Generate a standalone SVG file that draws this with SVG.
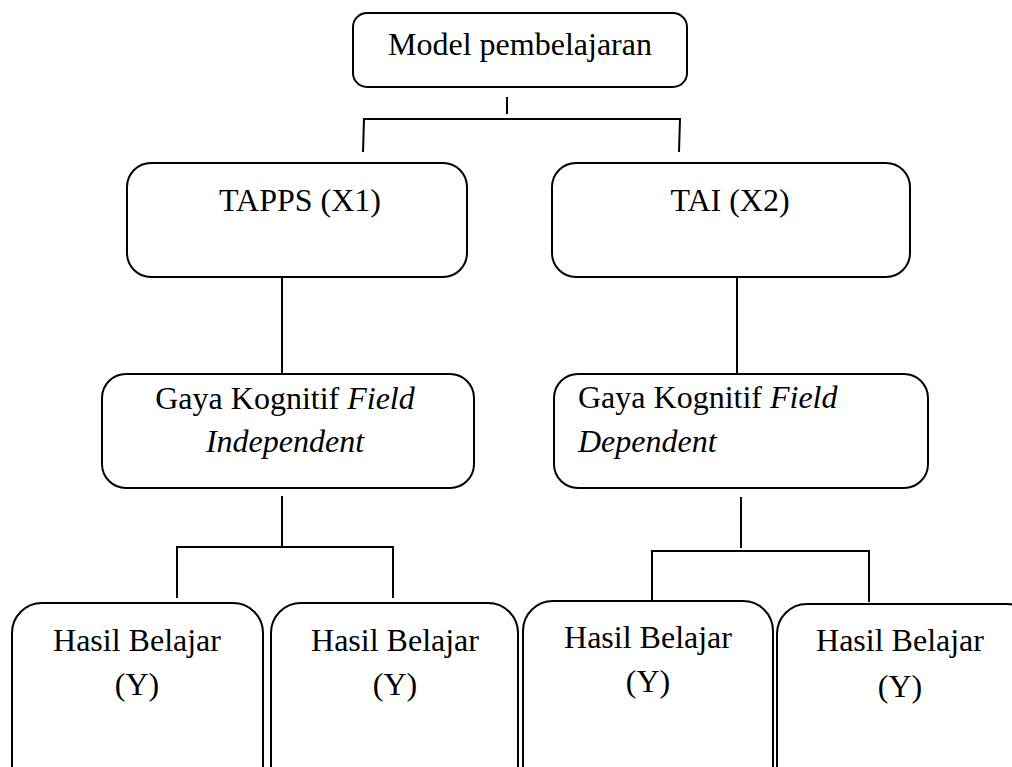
<svg xmlns="http://www.w3.org/2000/svg" width="1012" height="767" viewBox="0 0 1012 767">
<style>
.box{fill:#fff;stroke:#000;stroke-width:2}
.ln{fill:none;stroke:#000;stroke-width:2}
text{font-family:"Liberation Serif","Times New Roman",serif;font-size:32px;fill:#000}
.c{text-anchor:middle}
.i{font-style:italic}
</style>
<rect width="1012" height="767" fill="#fff"/>
<g id="connectors">
<path class="ln" d="M507,97 V114"/>
<path class="ln" d="M363,152 L364,119 H680 L679,152"/>
<path class="ln" d="M282,277 V377"/>
<path class="ln" d="M737,277 V377"/>
<path class="ln" d="M282,496 V547"/>
<path class="ln" d="M177,598 V547 H393 V598"/>
<path class="ln" d="M741,497 V548"/>
<path class="ln" d="M652,600 V551 H869 V602"/>
</g>
<g id="model">
<rect class="box" x="353" y="13" width="334" height="74" rx="14"/>
<text class="c" x="520" y="55">Model pembelajaran</text>
</g>
<g id="tapps">
<rect class="box" x="127" y="163" width="340" height="114" rx="24"/>
<text class="c" x="300" y="211">TAPPS (X1)</text>
</g>
<g id="tai">
<rect class="box" x="552" y="163" width="358" height="114" rx="24"/>
<text class="c" x="730" y="211">TAI (X2)</text>
</g>
<g id="fi">
<rect class="box" x="102" y="374" width="372" height="114" rx="24"/>
<text class="c" x="285" y="409">Gaya Kognitif <tspan class="i">Field</tspan></text>
<text class="c i" x="285" y="452">Independent</text>
</g>
<g id="fd">
<rect class="box" x="554" y="374" width="374" height="114" rx="24"/>
<text x="578" y="408">Gaya Kognitif <tspan class="i">Field</tspan></text>
<text class="i" x="578" y="452">Dependent</text>
</g>
<g id="hb1">
<rect class="box" x="12" y="603" width="251" height="200" rx="30"/>
<text class="c" x="137" y="651">Hasil Belajar</text>
<text class="c" x="137" y="695">(Y)</text>
</g>
<g id="hb2">
<rect class="box" x="271" y="603" width="247" height="200" rx="30"/>
<text class="c" x="395" y="651">Hasil Belajar</text>
<text class="c" x="395" y="695">(Y)</text>
</g>
<g id="hb3">
<rect class="box" x="523" y="601" width="250" height="200" rx="30"/>
<text class="c" x="648" y="648">Hasil Belajar</text>
<text class="c" x="648" y="692">(Y)</text>
</g>
<g id="hb4">
<rect class="box" x="777" y="604" width="260" height="200" rx="30"/>
<text class="c" x="900" y="651">Hasil Belajar</text>
<text class="c" x="900" y="697">(Y)</text>
</g>
</svg>
